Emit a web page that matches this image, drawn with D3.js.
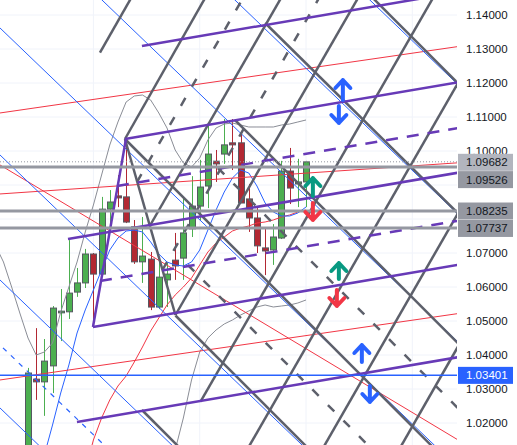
<!DOCTYPE html>
<html><head><meta charset="utf-8">
<script src="https://cdn.jsdelivr.net/npm/d3@7"></script>
<style>body{margin:0;background:#fff;overflow:hidden}svg{display:block}</style>
</head><body><svg id="c" width="517" height="445"></svg>
<script>
// ---------- DATA ----------
// candles: [open, high, low, close], bar index = position in array
const candles = [
 [1.0032,1.0362,1.0010,1.0347],[1.0329,1.0479,1.0268,1.0321],[1.0321,1.0447,1.0221,1.0382],
 [1.0368,1.0544,1.0288,1.0538],[1.0524,1.0594,1.0441,1.0529],[1.0527,1.0738,1.0506,1.0582],
 [1.0585,1.0656,1.0571,1.0612],[1.0612,1.0712,1.0597,1.0697],[1.0697,1.0700,1.0485,1.0638],
 [1.0638,1.0865,1.0632,1.0829],[1.0829,1.0885,1.0768,1.0850],[1.0868,1.0929,1.0835,1.0862],
 [1.0865,1.1035,1.0788,1.0791],[1.0777,1.0797,1.0668,1.0674],[1.0674,1.0806,1.0612,1.0691],
 [1.0682,1.0703,1.0532,1.0541],[1.0541,1.0682,1.0535,1.0629],[1.0621,1.0671,1.0541,1.0638],
 [1.0679,1.0759,1.0621,1.0662],[1.0685,1.0865,1.0621,1.0759],[1.0771,1.0926,1.0747,1.0838],
 [1.0838,1.0974,1.0797,1.0894],[1.0897,1.1079,1.0832,1.0991],[1.0970,1.1003,1.0909,1.0962],
 [1.0991,1.1094,1.0962,1.1018],[1.1024,1.1094,1.0944,1.1018],[1.1024,1.1053,1.0847,1.0847],
 [1.0859,1.0903,1.0762,1.0803],[1.0803,1.0832,1.0700,1.0721],[1.0715,1.0774,1.0635,1.0706],
 [1.0709,1.0785,1.0665,1.0747],[1.0744,1.0971,1.0741,1.0941],[1.0941,1.1009,1.0844,1.0891],
 [1.0903,1.0977,1.0835,1.0909],[1.0909,1.0971,1.0835,1.0968]
];
const upperBandStart = -4;
const upperBand = [1.07235,1.06735,1.06000,1.05235,1.04500,1.04000,1.04088,1.04353,1.05265,1.06000,
 1.06735,1.07618,1.08412,1.09294,1.10176,1.10853,1.11441,1.11618,1.11647,1.11500,1.11118,1.10676,
 1.10029,1.09647,1.09529,1.09794,1.10324,1.10676,1.10794,1.10824,1.10765,1.10706,1.10706,1.10706,
 1.10706,1.10765,1.10794,1.10853,1.10912];
const lowerBandStart = 17;
const lowerBand = [1.00324,1.01206,1.02147,1.03265,1.04088,1.04500,1.04735,1.04912,1.05029,1.05176,
 1.05294,1.05412,1.05471,1.05412,1.05441,1.05471,1.05529,1.05618];
const slowMAStart = 7;
const slowMA = [1.00618,1.01500,1.02147,1.02676,1.03088,1.03382,1.03794,1.04235,1.04706,1.05088,
 1.05471,1.05765,1.06000,1.06265,1.06647,1.07029,1.07294,1.07471,1.07647,1.07735,1.07794,1.07882,
 1.07912,1.07971,1.08059,1.08118,1.08206,1.08265];
const fastMAStart = 1;
const fastMA = [1.00029,1.01059,1.01941,1.02882,1.03706,1.04647,1.05324,1.05912,1.06500,1.07088,
 1.07441,1.07647,1.07676,1.07618,1.07324,1.06971,1.06735,1.06647,1.06618,1.06735,1.07088,1.07676,
 1.08265,1.08794,1.09206,1.09441,1.09353,1.08971,1.08471,1.08206,1.08088,1.08088,1.08176,1.08353];

// drawings: [barIndex1, price1, barIndex2, price2]
const purpleSolid = [
 [13.936,1.130882,54.034,1.147294],[11.858,1.103529,54.034,1.120779],[4.890,1.074118,54.034,1.094206],
 [7.946,1.048235,54.034,1.067088],[5.990,1.020294,54.034,1.039941],[7.946,1.048235,11.980,1.103529]];
const purpleDashed = [[10.880,1.089706,54.034,1.107353],[8.802,1.061765,54.034,1.080059]];
const graySolid = [
 [8.802,1.128941,12.824,1.145882],[11.858,1.103529,21.870,1.145882],[14.890,1.077941,31.161,1.145882],
 [18.032,1.051765,40.575,1.145882],[21.100,1.026265,49.743,1.145882],[26.773,1.012059,54.034,1.126029],
 [35.941,1.012059,54.034,1.087735],[45.355,1.012059,54.034,1.048529],
 [41.809,1.145882,54.034,1.116471],[29.000,1.137647,54.034,1.078235],[25.306,1.109118,54.034,1.040000],
 [11.858,1.103529,54.034,1.002059],[18.032,1.051618,54.034,0.965000],[13.936,1.023824,19.804,1.009706],
 [11.858,1.103529,18.032,1.051765]];
const grayDashed = [
 [13.325,1.090882,26.516,1.145882],[16.443,1.065000,35.807,1.145882],
 [23.227,1.095000,54.034,1.020882],[19.560,1.066471,54.034,0.983529]];
const blueSolid = [
 [41.198,1.145824,54.034,1.116176],[24.694,1.145824,54.034,1.078059],[8.435,1.145824,54.034,1.040500],
 [-4.034,1.137588,54.034,1.003471],[-4.034,1.100235,54.034,0.966176],[-4.034,1.063471,21.027,1.005588],
 [-4.034,1.025824,3.912,1.007471]];
const blueDashed = [[-4.034,1.044353,11.247,1.009059]];
const redLines = [
 [-4.034,1.110971,54.034,1.131221],[-4.034,1.087265,54.034,1.096765],
 [-4.034,1.032441,54.034,1.052691],[-4.034,1.096765,54.034,1.012941]];
const grayLevels = [1.09526,1.08235,1.07737];
const lastPrice = 1.09682;
const blueLevel = 1.03401;
// arrows: [barIndex, tailPrice, tipPrice, color]
const arrows = [
 [38.509,1.1150,1.120882,"#2962ff"],[38.020,1.113235,1.108235,"#2962ff"],
 [34.841,1.086765,1.092059,"#089981"],[34.841,1.084706,1.079706,"#f23645"],
 [38.020,1.062353,1.067059,"#089981"],[37.775,1.059118,1.054412,"#f23645"],
 [40.831,1.037941,1.042941,"#2962ff"],[41.809,1.030882,1.026176,"#2962ff"]];
const priceTicks = [1.02,1.03,1.04,1.05,1.06,1.07,1.08,1.09,1.10,1.11,1.12,1.13,1.14];
const timeGrid = [8,21,34,47];

// ---------- DRAW ----------
const svg = d3.select("#c");
const PW = 457, H = 445;
const x = d3.scaleLinear().domain([0,34]).range([28,306]);
const y = d3.scaleLinear().domain([1.02,1.14]).range([423,15]);

const defs = svg.append("defs");
defs.append("clipPath").attr("id","clip")
  .append("rect").attr("x",0).attr("y",0).attr("width",PW).attr("height",H);
const g = svg.append("g").attr("clip-path","url(#clip)");

// grid
g.selectAll(".hg").data(priceTicks).enter().append("line")
  .attr("x1",0).attr("x2",PW).attr("y1",d=>y(d)).attr("y2",d=>y(d))
  .attr("stroke","#f0f3fa").attr("stroke-width",1);
g.selectAll(".vg").data(timeGrid).enter().append("line")
  .attr("x1",d=>x(d)).attr("x2",d=>x(d)).attr("y1",0).attr("y2",H)
  .attr("stroke","#f0f3fa").attr("stroke-width",1);

// candles
const up = d => d[3] >= d[0];
const cg = g.append("g");
cg.selectAll(".w").data(candles).enter().append("line")
  .attr("x1",(d,i)=>Math.round(x(i))+0.5).attr("x2",(d,i)=>Math.round(x(i))+0.5)
  .attr("y1",d=>y(d[1])).attr("y2",d=>y(d[2]))
  .attr("stroke",d=>up(d)?"#4caf50":"#b22833").attr("stroke-width",1);
cg.selectAll(".b").data(candles).enter().append("rect")
  .attr("x",(d,i)=>Math.round(x(i))-2.5).attr("width",6)
  .attr("y",d=>y(Math.max(d[0],d[3])))
  .attr("height",d=>Math.max(1.5,Math.abs(y(d[0])-y(d[3]))))
  .attr("fill",d=>up(d)?"#4caf50":"#b22833").attr("stroke","#555861").attr("stroke-width",1);

// indicators
function series(arr,start,color){
  const line = d3.line().x((d,i)=>x(start+i)).y(d=>y(d));
  g.append("path").attr("d",line(arr)).attr("fill","none").attr("stroke",color).attr("stroke-width",1);
}
series(upperBand,upperBandStart,"#8a8d96");
series(lowerBand,lowerBandStart,"#8a8d96");
series(slowMA,slowMAStart,"#f23645");
series(fastMA,fastMAStart,"#2962ff");

function segs(arr,color,w,dash){
  g.append("g").selectAll("line").data(arr).enter().append("line")
   .attr("x1",d=>x(d[0])).attr("y1",d=>y(d[1])).attr("x2",d=>x(d[2])).attr("y2",d=>y(d[3]))
   .attr("stroke",color).attr("stroke-width",w).attr("stroke-dasharray",dash||null);
}
segs(redLines,"#f23645",1);
segs(blueSolid,"#2962ff",1);
segs(blueDashed,"#2962ff",1.2,"5,6");
segs(graySolid,"#5d606b",2.5);
segs(grayDashed,"#5d606b",2.5,"9,13");
segs(purpleSolid,"#673ab7",2.5);
segs(purpleDashed,"#673ab7",2.5,"12,9");

// horizontal levels
g.append("line").attr("x1",0).attr("x2",PW).attr("y1",y(lastPrice)).attr("y2",y(lastPrice))
 .attr("stroke","#9598a1").attr("stroke-width",1).attr("stroke-dasharray","1,2");
g.selectAll(".lv").data(grayLevels).enter().append("line")
 .attr("x1",0).attr("x2",PW).attr("y1",d=>y(d)).attr("y2",d=>y(d))
 .attr("stroke","#9598a1").attr("stroke-width",3);
g.append("line").attr("x1",0).attr("x2",PW).attr("y1",y(blueLevel)).attr("y2",y(blueLevel))
 .attr("stroke","#2962ff").attr("stroke-width",1.5);

// arrows
arrows.forEach(a=>{
  const cx = x(a[0]), yt = y(a[1]), yp = y(a[2]);
  const dir = yp < yt ? 1 : -1;
  const p = `M${cx},${yt}L${cx},${yp}M${cx-7.5},${yp+dir*8}L${cx},${yp}L${cx+7.5},${yp+dir*8}`;
  g.append("path").attr("d",p).attr("fill","none").attr("stroke",a[3]).attr("stroke-width",4)
   .attr("stroke-linecap","round").attr("stroke-linejoin","round");
});

// price axis labels (boxes drawn on top)
const font = "'Liberation Sans', Arial, sans-serif";
const labels = [
  [lastPrice, y(lastPrice)+0.5, "#b2b5be", "#131722"],
  [grayLevels[0], y(grayLevels[0])+12.5, "#9598a1", "#131722"],
  [grayLevels[1], y(grayLevels[1]), "#9598a1", "#131722"],
  [grayLevels[2], y(grayLevels[2])+0.5, "#9598a1", "#131722"],
  [blueLevel, y(blueLevel), "#2962ff", "#ffffff"]];
const covered = t => labels.some(l => Math.abs(y(t) - l[1]) < 8.6);
svg.selectAll(".tk").data(priceTicks.filter(t=>!covered(t))).enter().append("text")
  .attr("x",466).attr("y",d=>y(d)+4).text(d=>d.toFixed(5))
  .attr("font-family",font).attr("font-size","11.5px").attr("fill","#131722");
labels.forEach(l=>{
  svg.append("rect").attr("x",458).attr("y",l[1]-8.5).attr("width",55).attr("height",17).attr("fill",l[2]);
  svg.append("text").attr("x",466).attr("y",l[1]+4).text(l[0].toFixed(5))
   .attr("font-family",font).attr("font-size","11.5px").attr("fill",l[3]);
});
</script></body></html>
